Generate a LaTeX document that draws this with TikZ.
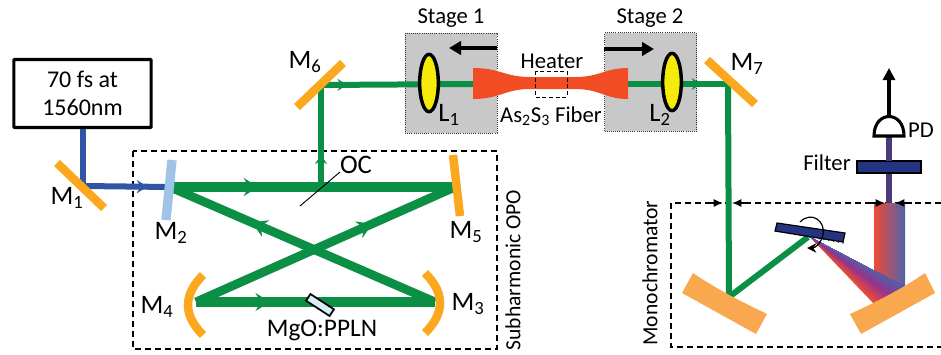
\documentclass[tikz,border=0pt]{standalone}
\usepackage{fontspec}
\setmainfont{Carlito}
\usetikzlibrary{shapes,arrows.meta,positioning,calc,decorations.markings}
\definecolor{beamgreen}{HTML}{0A8F45}
\definecolor{pumpblue}{HTML}{2F55A4}
\definecolor{mirrorgold}{HTML}{FBA81E}
\definecolor{mirrorsoft}{HTML}{FAA84F}
\definecolor{couplerblue}{HTML}{A0C3E8}
\definecolor{stagegray}{HTML}{C8C8C8}
\definecolor{lensyellow}{HTML}{F5EA0A}
\definecolor{fiberred}{HTML}{F24C24}
\definecolor{crystalblue}{HTML}{D6EEF5}
\definecolor{gratingblue}{HTML}{243480}
\definecolor{specred}{HTML}{EE4B35}
\definecolor{specmid}{HTML}{93358C}
\definecolor{specblue}{HTML}{4F62AC}
\definecolor{pdpurple}{HTML}{4B3A78}

\begin{document}
\begin{tikzpicture}[
    x=0.75pt,y=-0.75pt,
    font=\fontsize{17}{20}\selectfont,
    lbl/.style    = {inner sep=0pt,align=center},
    mlbl/.style   = {lbl,font=\fontsize{20}{22}\selectfont},
    sidelbl/.style= {lbl,rotate=90,font=\fontsize{16.2}{18}\selectfont},
    mirror/.style = {mirrorgold,line width=6.4pt},
    soft/.style   = {fill=mirrorsoft,draw=none},
    thick beam/.style = {beamgreen,line width=#1},
    flow/.style   = {postaction={decorate,decoration={markings,
                     mark=at position #1 with {\arrow[beamgreen]{Stealth[length=11pt,width=13.5pt,inset=4pt]}}}}},
    flowthin/.style = {postaction={decorate,decoration={markings,
                     mark=at position #1 with {\arrow[beamgreen]{Stealth[length=7pt,width=9pt,inset=2.5pt]}}}}},
    flowb/.style  = {postaction={decorate,decoration={markings,
                     mark=at position #1 with {\arrow[pumpblue]{Stealth[length=8pt,width=10pt,inset=3pt]}}}}},
    box/.style    = {dash pattern=on 4.5pt off 3pt,line width=0.9pt},
    stagebox/.style = {draw=black!80,fill=stagegray,densely dotted,line width=0.6pt,minimum width=69pt,inner sep=0pt},
    lens/.style   = {ellipse,draw=black,fill=lensyellow,line width=2.6pt,inner sep=0pt,
                     minimum width=14pt,minimum height=43pt},
    push/.style   = {-{Triangle[length=9pt,width=10pt]},line width=3pt},
    pin/.style    = {-{Latex[length=7pt,width=6pt]},line width=0.9pt},
  ]
  \useasboundingbox (0,0) rectangle (941,354);

  % stages and enclosures
  \node[stagebox,minimum height=75pt] (stone) at (451,83) {};
  \node[stagebox,minimum height=74pt] (sttwo) at (650.5,82) {};
  \draw[box] (133,151) rectangle (497,349);
  \draw[box] (941,203) -- (671,203) -- (671,347) -- (941,347);

  % anchor points of the beams
  \coordinate (mone) at (83,186);
  \coordinate (mtwo) at (170,187);
  \coordinate (mthree) at (435,302);
  \coordinate (mfour) at (196,302);
  \coordinate (mfive) at (455,187);
  \coordinate (msix) at (321,85);
  \coordinate (mseven) at (728,84);
  \coordinate (oc) at (321,186);
  \coordinate (fibl) at (473,84);
  \coordinate (fibr) at (628,84);
  \coordinate (monl) at (729,297);
  \coordinate (grat) at (808,237);

  % laser
  \node[draw,line width=2.3pt,rounded corners=0.5pt,minimum width=103pt,minimum height=51pt,
        align=center,inner sep=0pt,font=\fontsize{18}{21.5}\selectfont] (laser) at (82.5,93.5) {70 fs at\\1560nm};
  \draw[pumpblue,line width=4.5pt] (laser.south -| mone) -- (mone);
  \draw[pumpblue,line width=4.5pt,flowb=0.74] (mone) -- (mtwo);

  % cavity
  \draw[thick beam=7.5pt,flow=0.31] (mtwo) -- (mfive);
  \draw[thick beam=6.6pt,flow=0.69] (mthree) -- (mtwo);
  \draw[thick beam=6.6pt,flow=0.68] (mfour) -- (mfive);
  \draw[thick beam=7.5pt,flow=0.31] (mfour) -- (mthree);
  \draw[thick beam=4.5pt,flowthin=0.31] (oc) -- (msix);
  \draw[thick beam=4.5pt,flowthin=0.17] (msix) -- (fibl);
  \draw[thick beam=4.5pt,flowthin=0.73] (fibr) -- (mseven);

  % spectrometer arm
  \draw[thick beam=4.5pt] (mseven) -- (monl);
  \draw[thick beam=4.5pt] (monl) -- (grat);
  \draw[pdpurple,line width=4.2pt] (889,136) -- (889,203);
  \shade[left color=specred,middle color=specmid,right color=specblue]
        (874,203) rectangle (905,303);
  \foreach \t in {0,...,39} {
    \pgfmathtruncatemacro{\p}{\t<20 ? 5*\t : 5*(\t-20)}
    \pgfmathsetmacro{\u}{\t*0.79+874}
    \pgfmathsetmacro{\v}{304-\t*0.43}
    \ifnum\t<20 \colorlet{stripcol}{specmid!\p!specred}\else\colorlet{stripcol}{specblue!\p!specmid}\fi
    \fill[stripcol] (810,237) -- (\u,\v) -- (905,287) -- cycle;
  }

  % mirrors
  \draw[mirror] (57,163) -- (104,208);
  \draw[mirror] (297,107) -- (343,63);
  \draw[mirror] (707,60) -- (755,104);
  \draw[mirror] (453,155) -- (460,216);
  \draw[couplerblue,line width=7pt] (172,160) -- (166,220);
  \draw[mirror] (203,275) .. controls (183,295) and (183,315) .. (203,335);
  \draw[mirror] (425,273) .. controls (445,293) and (445,313) .. (425,333);
  \fill[soft] (693,273) .. controls (718,290) and (742,302) .. (767,314) -- (756,334) -- (682,293) -- cycle;
  \fill[soft] (925,273) -- (935,293) -- (861,334) -- (850,314) .. controls (876,302) and (900,290) .. (925,273);

  % fiber, heater, lenses
  \fill[fiberred] (473,68) .. controls (500,68) and (505,77) .. (530,77) -- (575,77)
       .. controls (600,77) and (605,68) .. (628,68) -- (628,99)
       .. controls (605,99) and (600,89) .. (575,89) -- (530,89)
       .. controls (505,89) and (500,99) .. (473,99) -- cycle;
  \draw[densely dashed,line width=0.5pt] (535,71) rectangle (567,97);
  \node[lens] (lone) at (429,83) {};
  \node[lens] (ltwo) at (672,82) {};
  \draw[push] (stone.east |- 0,48) -- (449,48);
  \draw[push] (sttwo.west |- 0,49) -- (654,49);

  % crystal
  \node[draw,fill=crystalblue,line width=1.3pt,rotate=-33,minimum width=21pt,minimum height=6pt,
        inner sep=0pt] (ppln) at (320,305) {};

  % grating
  \foreach \t in {0,...,14}
    \fill[gratingblue] ($(776,231)!\t/14!(843,243)$) circle (0.8);
  \filldraw[fill=gratingblue,draw=black,line width=0.9pt] (777,223) -- (845,233) -- (843,242) -- (775,231) -- cycle;
  \draw[-{Stealth[length=7pt,width=7pt]},line width=0.9pt] (800,222)
       .. controls (812,210) and (826,222) .. (823,235)
       .. controls (821,243) and (815,248) .. (807,248);

  % detection
  \filldraw[fill=gratingblue,draw=black,line width=1pt] (857,161) rectangle (921,173);
  \draw[pdpurple,line width=4.2pt] (889,161) -- (889,136);
  \coordinate (pd) at (889,117);
  \draw[fill=white,line width=2.3pt] (874,136) .. controls (874,110) and (904,110) .. (904,136) -- cycle;
  \draw[-{Triangle[length=9pt,width=9pt]},line width=2.3pt] (pd) -- (889,68);

  % monochromator entrance marks
  \foreach \a/\b in {705/723,750/732,865/885,912/895}
    \draw[pin] (\a,203) -- (\b,203);

  % oc pointer
  \draw[line width=0.7pt] (300,206) -- (340,172);

  % labels
  \node[lbl] at (451,18)  {Stage 1};
  \node[lbl] at (650,18)  {Stage 2};
  \node[lbl] at (552,61)  {Heater};
  \node[lbl] at (551,116) {As\textsubscript{2}S\textsubscript{3} Fiber};
  \node[mlbl] at (449,115) {L\textsubscript{1}};
  \node[mlbl] at (660,115) {L\textsubscript{2}};
  \node[mlbl] at (67,198)  {M\textsubscript{1}};
  \node[mlbl] at (171,233) {M\textsubscript{2}};
  \node[mlbl] at (468,304) {M\textsubscript{3}};
  \node[mlbl] at (157,307) {M\textsubscript{4}};
  \node[mlbl] at (466,232) {M\textsubscript{5}};
  \node[mlbl] at (305,62)  {M\textsubscript{6}};
  \node[mlbl] at (747,64)  {M\textsubscript{7}};
  \node[mlbl] at (356,165) {OC};
  \node[lbl,font=\fontsize{19}{21}\selectfont] at (322,330) {MgO:PPLN};
  \node[lbl] at (921,130) {PD};
  \node[lbl] at (827,163) {Filter};
  \node[sidelbl] at (513,270) {Subharmonic OPO};
  \node[sidelbl] at (650,273) {Monochromator};
\end{tikzpicture}
\end{document}
